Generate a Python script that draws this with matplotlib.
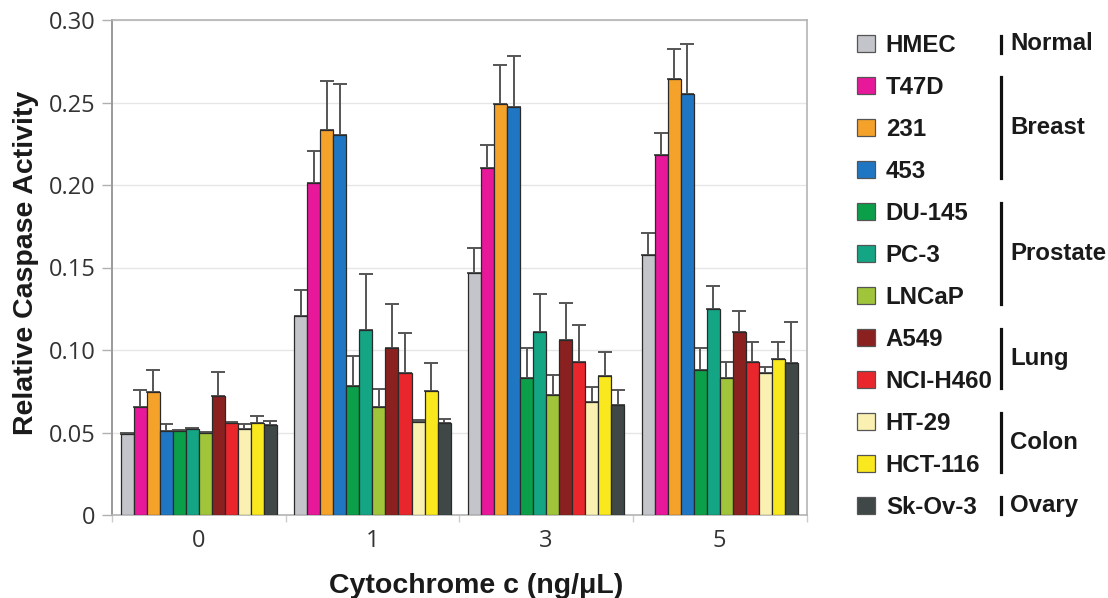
import numpy as np
import matplotlib
matplotlib.use('Agg')
import matplotlib.pyplot as plt
from matplotlib.lines import Line2D

# ---------------- data ----------------
doses = ['0', '1', '3', '5']
cell_lines = ['HMEC', 'T47D', '231', '453', 'DU-145', 'PC-3', 'LNCaP',
              'A549', 'NCI-H460', 'HT-29', 'HCT-116', 'Sk-Ov-3']
colors = ['#c3c5cb', '#e8189a', '#f5a22a', '#1f77c4', '#0b9f4a', '#14a585',
          '#a0c43a', '#8a2020', '#e8262c', '#f9f0b2', '#f9e81e', '#3f4747']

# mean values per dose (one entry per cell line, in cell_lines order)
mean_0 = [0.0491, 0.0656, 0.0745, 0.0511, 0.0511, 0.0521, 0.0497, 0.0719, 0.0558, 0.0523, 0.0558, 0.0544]
mean_1 = [0.1206, 0.2012, 0.2332, 0.2303, 0.0782, 0.1121, 0.0656, 0.1010, 0.0859, 0.0565, 0.0753, 0.0559]
mean_3 = [0.1469, 0.2105, 0.2489, 0.2471, 0.0830, 0.1107, 0.0729, 0.1058, 0.0927, 0.0682, 0.0840, 0.0664]
mean_5 = [0.1573, 0.2184, 0.2645, 0.2550, 0.0876, 0.1249, 0.0830, 0.1107, 0.0927, 0.0860, 0.0945, 0.0921]
# upper error (SD) per dose
err_0 = [0.0005, 0.0102, 0.0134, 0.0039, 0.0005, 0.0004, 0.0005, 0.0149, 0.0005, 0.0027, 0.0040, 0.0028]
err_1 = [0.0158, 0.0196, 0.0300, 0.0309, 0.0182, 0.0340, 0.0108, 0.0271, 0.0242, 0.0010, 0.0170, 0.0021]
err_3 = [0.0151, 0.0137, 0.0238, 0.0313, 0.0180, 0.0233, 0.0121, 0.0227, 0.0223, 0.0093, 0.0150, 0.0091]
err_5 = [0.0137, 0.0129, 0.0178, 0.0304, 0.0134, 0.0137, 0.0100, 0.0127, 0.0122, 0.0037, 0.0104, 0.0249]

tissue_groups = [('Normal', 0, 0), ('Breast', 1, 3), ('Prostate', 4, 6),
                 ('Lung', 7, 8), ('Colon', 9, 10), ('Ovary', 11, 11)]
yticks = [0, 0.05, 0.10, 0.15, 0.20, 0.25, 0.30]
ytick_labels = ['0', '0.05', '0.10', '0.15', '0.20', '0.25', '0.30']

# ---------------- figure ----------------
W, H = 1108, 598
fig = plt.figure(figsize=(W / 100, H / 100), dpi=100)
ax = fig.add_axes([112 / W, 1 - 515 / H, (806.5 - 112) / W, (515 - 20) / H])

means = np.array([mean_0, mean_1, mean_3, mean_5]).T
errs = np.array([err_0, err_1, err_3, err_5]).T
x = np.arange(len(doses))
n = len(cell_lines)
width = 0.075

bold = dict(family=['Liberation Sans', 'DejaVu Sans'], weight='bold')
light = dict(family=['Open Sans', 'DejaVu Sans'])

handles = []
for i in range(n):
    off = (i - (n - 1) / 2) * width
    b = ax.bar(x + off, means[i], width, color=colors[i], edgecolor='#2a2a2a',
               linewidth=0.9, yerr=[np.zeros(len(doses)), errs[i]],
               error_kw=dict(ecolor='#555555', elinewidth=1.4, capsize=4.8,
                             capthick=1.4, zorder=2),
               label=cell_lines[i], zorder=3)
    handles.append(b)

ax.set_xlim(-0.5, len(doses) - 0.5)
ax.set_ylim(0, 0.30)
ax.set_yticks(yticks)
ax.set_yticklabels(ytick_labels, fontsize=17, color='#333333', **light)
ax.set_xticks(x)
ax.set_xticklabels(doses, fontsize=17, color='#333333', **light)
ax.set_xticks(np.arange(-0.5, len(doses), 1.0), minor=True)
ax.tick_params(axis='x', which='major', length=0, pad=10)
ax.tick_params(axis='x', which='minor', length=5, color='#cccccc', width=1)
ax.tick_params(axis='y', which='major', length=7, color='#b0b0b0', width=1, pad=5)

ax.yaxis.grid(True, color='#e6e6e6', linewidth=1)
ax.set_axisbelow(True)
for s in ['top', 'right', 'bottom']:
    ax.spines[s].set_color('#b4b4b4')
    ax.spines[s].set_linewidth(1.2)
ax.spines['left'].set_color('#9a9a9a')
ax.spines['left'].set_linewidth(1.4)

ax.set_ylabel('Relative Caspase Activity', fontsize=20.5, color='#1a1a1a', **bold)
ax.yaxis.set_label_coords((39 - 112) / (806.5 - 112), 0.51)
fig.text(476 / W, 1 - 593 / H, 'Cytochrome c (ng/\u03bcL)', fontsize=20.5,
         color='#1a1a1a', ha='center', va='baseline', **bold)

# ---------------- legend ----------------
leg = fig.legend(handles=handles, labels=cell_lines, loc='upper left',
                 bbox_to_anchor=(857 / W, 1 - 34 / H), frameon=False,
                 prop=dict(size=17.3, **bold), handlelength=0.75,
                 handleheight=0.72, handletextpad=0.45, labelspacing=0.79,
                 borderpad=0, borderaxespad=0)
for t in leg.get_texts():
    t.set_color('#1a1a1a')
for p in leg.get_patches():
    p.set_edgecolor('#555555')

fig.canvas.draw()
r = fig.canvas.get_renderer()
centers = []
for t in leg.get_texts():
    bb = t.get_window_extent(r)
    centers.append((bb.y0 + bb.y1) / 2)

for name, a, b in tissue_groups:
    ytop = centers[a] + 10
    ybot = centers[b] - 7
    fig.add_artist(Line2D([1001 / W, 1001 / W], [ytop / H, ybot / H],
                          transform=fig.transFigure, color='#111111', lw=2.3))
    fig.text(1010 / W, ((ytop + ybot) / 2) / H, name, fontsize=17.3,
             color='#1a1a1a', ha='left', va='center', **bold)

fig.savefig('out.png', dpi=100)
